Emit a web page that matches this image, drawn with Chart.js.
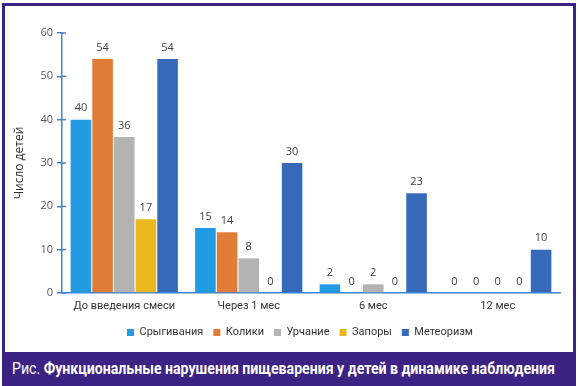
<!DOCTYPE html>
<html>
<head>
<meta charset="utf-8">
<script src="https://cdn.jsdelivr.net/npm/chart.js@4.4.0/dist/chart.umd.min.js"></script>
<style>
  html, body { margin: 0; padding: 0; background: #fff; }
  #wrap { position: relative; width: 578px; height: 386px; overflow: hidden; background: #fff; }
  #chart { position: absolute; left: 0; top: 0; }
  #frame { position: absolute; left: 2px; top: 3px; width: 568px; height: 383px;
           border: 3px solid #3c2283; border-bottom: none; box-sizing: content-box; }
  #cap { position: absolute; left: 2px; top: 352px; width: 574px; height: 34px;
         background: #3c2283; color: #fff; font-family: "Roboto", sans-serif;
         font-size: 16px; line-height: 34px; padding-left: 10px; box-sizing: border-box; white-space: nowrap; }
  #capText { display: inline-block; transform-origin: 0 50%; }
  #cap b { font-weight: bold; }
</style>
</head>
<body>
<div id="wrap">
  <canvas id="chart" width="578" height="352"></canvas>
  <div id="frame"></div>
  <div id="cap"><span id="capText">Рис. <b>Функциональные нарушения пищеварения у детей в динамике наблюдения</b></span></div>
</div>
<script>
// Данные
const categories = ["До введения смеси", "Через 1 мес", "6 мес", "12 мес"];
const srygivaniya = [40, 15, 2, 0];
const koliki = [54, 14, 0, 0];
const urchanie = [36, 8, 2, 0];
const zapory = [17, 0, 0, 0];
const meteorizm = [54, 30, 23, 10];
const yTicks = [0, 10, 20, 30, 40, 50, 60];

const axisBlue = "#3a86d6";
const labelFont = '"Roboto", sans-serif';

// подпись внизу сжимаем до ширины рамки
const capText = document.getElementById("capText");
capText.style.transform = `scaleX(${543 / capText.getBoundingClientRect().width})`;

// подписи значений над столбцами
const valueLabels = {
  id: "valueLabels",
  afterDatasetsDraw(chart) {
    const ctx = chart.ctx;
    ctx.save();
    ctx.font = '11px "Open Sans", sans-serif';
    ctx.fillStyle = "#404040";
    ctx.textAlign = "center";
    ctx.textBaseline = "bottom";
    chart.data.datasets.forEach((ds, i) => {
      chart.getDatasetMeta(i).data.forEach((bar, j) => {
        ctx.fillText(ds.data[j], bar.x, bar.y - 6);
      });
    });
    ctx.restore();
  },
};

// засечки по обе стороны оси Y и подпись оси
const axisExtras = {
  id: "axisExtras",
  afterDraw(chart) {
    const ctx = chart.ctx;
    const y = chart.scales.y;
    const left = chart.chartArea.left;
    ctx.save();
    ctx.strokeStyle = axisBlue;
    ctx.lineWidth = 1.5;
    yTicks.forEach((v) => {
      const py = y.getPixelForValue(v);
      ctx.beginPath();
      ctx.moveTo(left, py);
      ctx.lineTo(left + 4, py);
      ctx.stroke();
    });
    ctx.translate(20, (chart.chartArea.top + chart.chartArea.bottom) / 2);
    ctx.rotate(-Math.PI / 2);
    ctx.font = '12px "Open Sans", sans-serif';
    ctx.fillStyle = "#333";
    ctx.textAlign = "center";
    ctx.textBaseline = "middle";
    ctx.fillText("Число детей", 0, 0);
    ctx.restore();
  },
};

const mkSet = (label, data, color) => ({
  label,
  data,
  backgroundColor: color,
  categoryPercentage: 0.87,
  barPercentage: 0.95,
});

new Chart(document.getElementById("chart"), {
  type: "bar",
  data: {
    labels: categories,
    datasets: [
      mkSet("Срыгивания", srygivaniya, "#229be3"),
      mkSet("Колики", koliki, "#e07c38"),
      mkSet("Урчание", urchanie, "#b3b3b3"),
      mkSet("Запоры", zapory, "#e8b81e"),
      mkSet("Метеоризм", meteorizm, "#3669b7"),
    ],
  },
  options: {
    responsive: false,
    animation: false,
    layout: { padding: { left: 40, right: 18, top: 33, bottom: 4 } },
    scales: {
      x: {
        grid: { drawOnChartArea: false, drawTicks: false },
        border: { color: axisBlue, width: 1.5 },
        ticks: { color: "#333", padding: 7, font: { family: labelFont, size: 11 } },
        afterFit: (s) => { s.height = 24; },
      },
      y: {
        min: 0,
        max: 60,
        afterBuildTicks: (s) => { s.ticks = yTicks.map((v) => ({ value: v })); },
        grid: { drawOnChartArea: false, drawTicks: true, tickLength: 5, color: axisBlue, lineWidth: 1.5 },
        border: { color: axisBlue, width: 1.5 },
        ticks: { color: "#595959", padding: 4, font: { family: '"Open Sans", sans-serif', size: 11 } },
        afterFit: (s) => { s.width = 22; },
      },
    },
    plugins: {
      legend: {
        position: "bottom",
        labels: {
          boxWidth: 7,
          boxHeight: 7,
          padding: 10,
          color: "#333",
          font: { family: labelFont, size: 11 },
        },
      },
      tooltip: { enabled: false },
    },
  },
  plugins: [valueLabels, axisExtras],
});
</script>
</body>
</html>
